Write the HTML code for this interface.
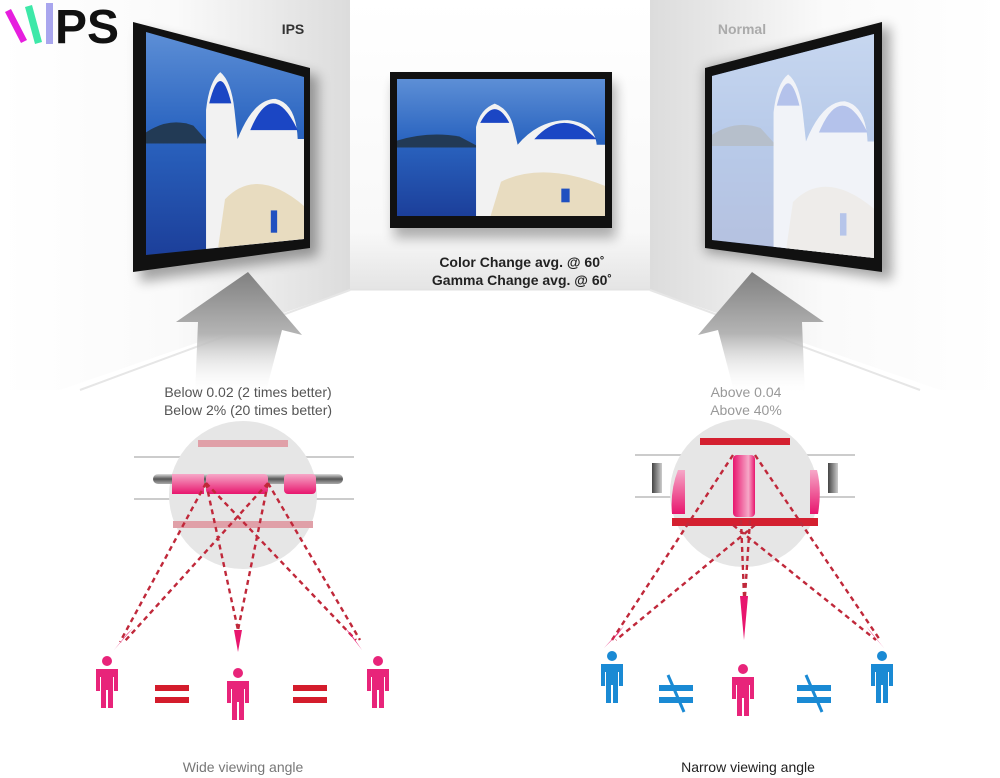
<!DOCTYPE html>
<html><head><meta charset="utf-8"><style>
html,body{margin:0;padding:0;background:#fff;}
svg{display:block;font-family:"Liberation Sans",sans-serif;}
</style></head><body>
<svg width="1000" height="778" viewBox="0 0 1000 778" xmlns="http://www.w3.org/2000/svg">
<defs>
<linearGradient id="lw" x1="0" y1="0" x2="1" y2="0"><stop offset="0" stop-color="#fff"/><stop offset="0.5" stop-color="#fafafa"/><stop offset="1" stop-color="#dcdcdc"/></linearGradient>
<linearGradient id="rw" x1="1" y1="0" x2="0" y2="0"><stop offset="0" stop-color="#fff"/><stop offset="0.5" stop-color="#fafafa"/><stop offset="1" stop-color="#dcdcdc"/></linearGradient>
<linearGradient id="bw" x1="0" y1="0" x2="0" y2="1"><stop offset="0" stop-color="#fff"/><stop offset="0.8" stop-color="#f8f8f8"/><stop offset="1" stop-color="#e4e4e4"/></linearGradient>
<linearGradient id="sea" x1="0" y1="0" x2="0" y2="1"><stop offset="0" stop-color="#5d8fd6"/><stop offset="0.45" stop-color="#2a64c0"/><stop offset="1" stop-color="#1c3f9a"/></linearGradient>
<linearGradient id="arr" x1="0" y1="1" x2="0" y2="0"><stop offset="0" stop-color="#fff" stop-opacity="0"/><stop offset="0.5" stop-color="#b4b4b4"/><stop offset="1" stop-color="#808080"/></linearGradient>
<linearGradient id="pk" x1="0" y1="0" x2="0" y2="1"><stop offset="0" stop-color="#f6a8c8"/><stop offset="1" stop-color="#e8166e"/></linearGradient>
<linearGradient id="pkv" x1="0" y1="0" x2="1" y2="0"><stop offset="0" stop-color="#e8166e"/><stop offset="0.7" stop-color="#f6a8c8"/><stop offset="1" stop-color="#e8166e"/></linearGradient>
<linearGradient id="gr" x1="0" y1="0" x2="0" y2="1"><stop offset="0" stop-color="#ddd"/><stop offset="0.5" stop-color="#555"/><stop offset="1" stop-color="#aaa"/></linearGradient>
<linearGradient id="grv" x1="0" y1="0" x2="1" y2="0"><stop offset="0" stop-color="#444"/><stop offset="1" stop-color="#ccc"/></linearGradient>
<filter id="bl" x="-20%" y="-20%" width="140%" height="140%"><feGaussianBlur stdDeviation="6"/></filter>
<clipPath id="cl"><polygon points="146,32 304,77 304,239 146,255"/></clipPath>
<clipPath id="cr"><polygon points="712,76 874,34 874,258 712,240"/></clipPath>
<g id="scene">
 <rect x="0" y="0" width="100" height="100" fill="url(#sea)"/>
 <path d="M0 45 Q15 38 30 42 L40 50 L0 50Z" fill="#223a55"/>
 <path d="M38 100 L38 35 Q40 22 47 18 Q54 22 56 35 L58 48 Q68 30 82 30 Q95 32 96 48 L100 48 L100 100Z" fill="#f2f2f2"/>
 <path d="M40 32 Q47 12 54 32Z" fill="#1b46c4"/>
 <path d="M66 44 Q80 20 96 44Z" fill="#1b46c4"/>
 <path d="M50 75 Q70 60 100 78 L100 100 L45 100Z" fill="#e8dcc0"/>
 <rect x="79" y="80" width="4" height="10" fill="#2050c0"/>
</g>
</defs>

<!-- walls -->
<polygon points="0,0 350,0 350,290 80,390 0,390" fill="url(#lw)"/>
<polygon points="650,0 1000,0 1000,390 930,390 650,290" fill="url(#rw)"/>
<rect x="350" y="0" width="300" height="290" fill="url(#bw)"/>
<polygon points="350,290 650,290 940,390 60,390" fill="#fff"/>
<line x1="350" y1="290" x2="650" y2="290" stroke="#e0e0e0"/>
<line x1="350" y1="290" x2="80" y2="390" stroke="#e6e6e6" stroke-width="2"/>
<line x1="650" y1="290" x2="920" y2="390" stroke="#e6e6e6" stroke-width="2"/>

<!-- left monitor -->
<polygon points="140,30 318,76 318,256 140,282" fill="#000" opacity="0.35" filter="url(#bl)"/>
<polygon points="133,22 310,68 310,248 133,272" fill="#111"/>
<g clip-path="url(#cl)"><svg x="146" y="32" width="158" height="223" viewBox="0 0 100 100" preserveAspectRatio="none"><use href="#scene"/></svg></g>

<!-- middle monitor -->
<rect x="394" y="82" width="222" height="156" fill="#000" opacity="0.3" filter="url(#bl)"/>
<rect x="390" y="72" width="222" height="156" fill="#111"/>
<svg x="397" y="79" width="208" height="137" viewBox="0 0 100 100" preserveAspectRatio="none"><use href="#scene"/></svg>

<!-- right monitor -->
<polygon points="705,68 890,26 892,280 705,252" fill="#000" opacity="0.35" filter="url(#bl)"/>
<polygon points="705,68 882,22 882,272 705,248" fill="#111"/>
<g clip-path="url(#cr)"><svg x="712" y="34" width="162" height="224" viewBox="0 0 100 100" preserveAspectRatio="none"><use href="#scene"/></svg>
<rect x="700" y="20" width="190" height="260" fill="#f0f3fa" opacity="0.72"/></g>

<!-- arrows -->
<polygon points="195,395 265,395 282,330 302,335 248,272 176,322 198,322" fill="url(#arr)"/>
<polygon points="805,395 735,395 718,330 698,335 752,272 824,322 802,322" fill="url(#arr)"/>

<!-- logo -->
<polygon points="5,12 11,9 27,40 21,43" fill="#e61ede"/>
<polygon points="25,7 32,5 42,42 35,44" fill="#3de8a8"/>
<rect x="46" y="3" width="7" height="41" fill="#a9a6ee"/>
<text x="55" y="43" font-size="48" font-weight="bold" fill="#111">PS</text>

<!-- labels -->
<text x="293" y="34" font-size="14" font-weight="bold" fill="#333" text-anchor="middle">IPS</text>
<text x="742" y="34" font-size="14" font-weight="bold" fill="#aaa" text-anchor="middle">Normal</text>
<text x="522" y="267" font-size="14" font-weight="bold" fill="#222" text-anchor="middle">Color Change avg. @ 60˚</text>
<text x="522" y="285" font-size="14" font-weight="bold" fill="#222" text-anchor="middle">Gamma Change avg. @ 60˚</text>
<text x="248" y="397" font-size="14" fill="#555" text-anchor="middle">Below 0.02 (2 times better)</text>
<text x="248" y="415" font-size="14" fill="#555" text-anchor="middle">Below 2% (20 times better)</text>
<text x="746" y="397" font-size="14" fill="#999" text-anchor="middle">Above 0.04</text>
<text x="746" y="415" font-size="14" fill="#999" text-anchor="middle">Above 40%</text>
<text x="243" y="772" font-size="14" fill="#777" text-anchor="middle">Wide viewing angle</text>
<text x="748" y="772" font-size="14" fill="#222" text-anchor="middle">Narrow viewing angle</text>

<!-- left diagram -->
<line x1="134" y1="457" x2="354" y2="457" stroke="#ccc" stroke-width="2"/>
<line x1="134" y1="499" x2="354" y2="499" stroke="#ccc" stroke-width="2"/>
<circle cx="243" cy="495" r="74" fill="#e6e6e6"/>
<rect x="198" y="440" width="90" height="7" fill="#e0a0a8"/>
<rect x="173" y="521" width="140" height="7" fill="#e0a0a8"/>
<rect x="153" y="474" width="190" height="10" rx="5" fill="url(#gr)"/>
<rect x="172" y="474" width="32" height="20" fill="url(#pk)"/>
<rect x="206" y="474" width="62" height="20" rx="4" fill="url(#pk)"/>
<rect x="284" y="474" width="32" height="20" rx="4" fill="url(#pk)"/>
<g stroke="#c0283a" stroke-width="2.4" stroke-dasharray="5,4" fill="none">
<path d="M206 483 L120 642 M268 483 L124 642 M206 483 L238 630 M268 483 L238 630 M206 483 L356 640 M268 483 L360 640"/>
</g>
<polygon points="114,650 133,628 127,634" fill="#e8166e"/>
<polygon points="234,630 242,630 238,652" fill="#e8166e"/>
<polygon points="362,650 345,628 351,634" fill="#e8166e"/>
<rect x="155" y="685" width="34" height="6" fill="#d41c2c"/><rect x="155" y="697" width="34" height="6" fill="#d41c2c"/>
<rect x="293" y="685" width="34" height="6" fill="#d41c2c"/><rect x="293" y="697" width="34" height="6" fill="#d41c2c"/>

<!-- right diagram -->
<line x1="635" y1="455" x2="855" y2="455" stroke="#ccc" stroke-width="2"/>
<line x1="635" y1="497" x2="855" y2="497" stroke="#ccc" stroke-width="2"/>
<circle cx="744" cy="493" r="74" fill="#e6e6e6"/>
<rect x="700" y="438" width="90" height="7" fill="#d42030"/>
<rect x="672" y="518" width="146" height="8" fill="#d42030"/>
<rect x="652" y="463" width="10" height="30" fill="url(#grv)"/>
<rect x="828" y="463" width="10" height="30" fill="url(#grv)"/>
<path d="M678 470 L685 470 L685 514 L672 514 Q670 490 678 470Z" fill="url(#pk)"/>
<path d="M810 470 L817 470 Q822 490 818 514 L810 514Z" fill="url(#pk)"/>
<rect x="733" y="455" width="22" height="62" rx="4" fill="url(#pkv)"/>
<g stroke="#c0283a" stroke-width="2.4" stroke-dasharray="5,4" fill="none">
<path d="M733 455 L612 640 M755 525 L616 640 M741 520 L744 596 M750 520 L745 596 M733 525 L876 640 M755 455 L880 640"/>
</g>
<polygon points="604,648 624,626 618,634" fill="#e8166e"/>
<polygon points="740,596 748,596 744,640" fill="#e8166e"/>
<polygon points="884,648 866,626 872,634" fill="#e8166e"/>
<g fill="#1a8ad4">
<rect x="659" y="685" width="34" height="6"/><rect x="659" y="697" width="34" height="6"/>
<rect x="797" y="685" width="34" height="6"/><rect x="797" y="697" width="34" height="6"/>
</g>
<g stroke="#1a8ad4" stroke-width="3"><line x1="668" y1="675" x2="684" y2="712"/><line x1="806" y1="675" x2="822" y2="712"/></g>

<!-- people -->
<g fill="#e8247a">
 <g transform="translate(107,656)"><circle cx="0" cy="5" r="5"/><path d="M-11 13 h22 v22 h-4 v-14 h-1 v31 h-5 v-18 h-2 v18 h-5 v-31 h-1 v14 h-4z"/></g>
 <g transform="translate(238,668)"><circle cx="0" cy="5" r="5"/><path d="M-11 13 h22 v22 h-4 v-14 h-1 v31 h-5 v-18 h-2 v18 h-5 v-31 h-1 v14 h-4z"/></g>
 <g transform="translate(378,656)"><circle cx="0" cy="5" r="5"/><path d="M-11 13 h22 v22 h-4 v-14 h-1 v31 h-5 v-18 h-2 v18 h-5 v-31 h-1 v14 h-4z"/></g>
 <g transform="translate(743,664)"><circle cx="0" cy="5" r="5"/><path d="M-11 13 h22 v22 h-4 v-14 h-1 v31 h-5 v-18 h-2 v18 h-5 v-31 h-1 v14 h-4z"/></g>
</g>
<g fill="#1a8ad4">
 <g transform="translate(612,651)"><circle cx="0" cy="5" r="5"/><path d="M-11 13 h22 v22 h-4 v-14 h-1 v31 h-5 v-18 h-2 v18 h-5 v-31 h-1 v14 h-4z"/></g>
 <g transform="translate(882,651)"><circle cx="0" cy="5" r="5"/><path d="M-11 13 h22 v22 h-4 v-14 h-1 v31 h-5 v-18 h-2 v18 h-5 v-31 h-1 v14 h-4z"/></g>
</g>
</svg>
</body></html>
